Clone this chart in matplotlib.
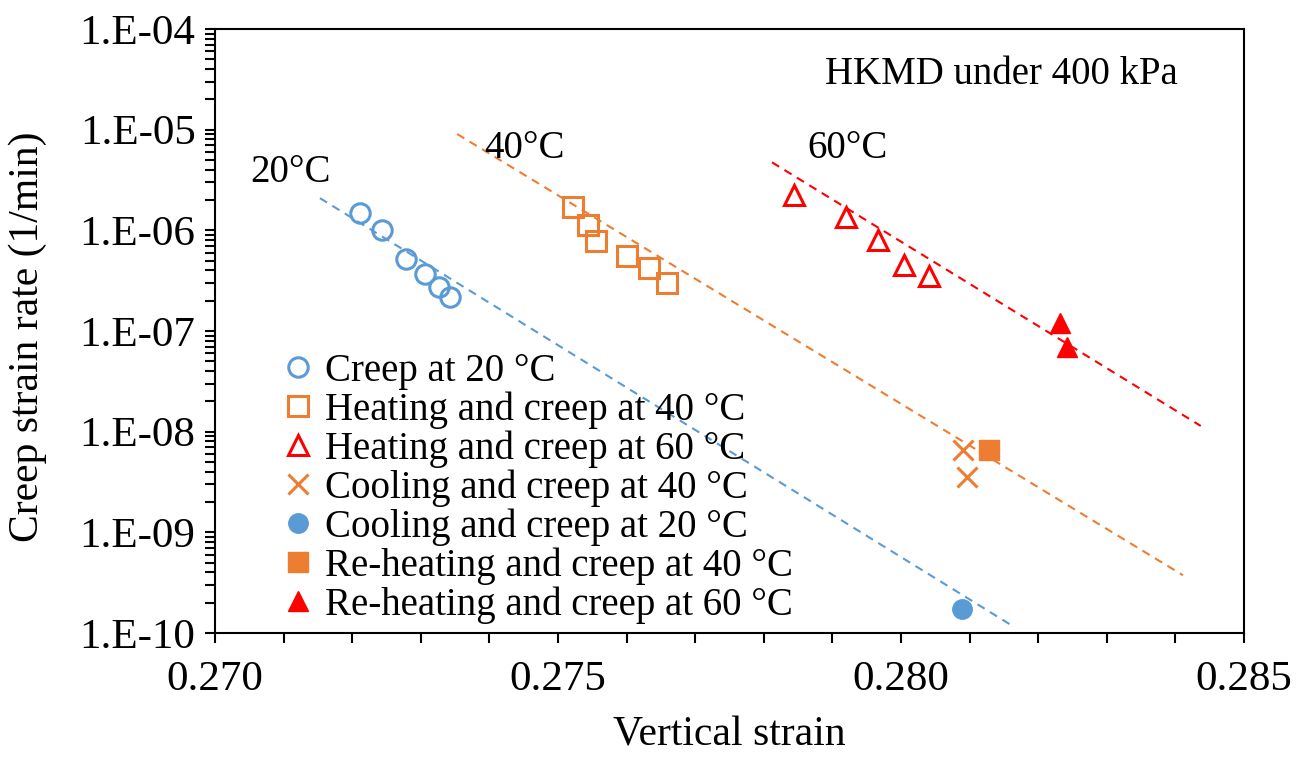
import numpy as np
import matplotlib
matplotlib.use("Agg")
import matplotlib.pyplot as plt
from matplotlib.ticker import FixedLocator, FuncFormatter, LogLocator, NullFormatter

plt.rcParams['font.family'] = ['Liberation Serif', 'DejaVu Serif']

# measured points: vertical strain vs creep strain rate (1/min)
creep20_x = [0.27211, 0.27243, 0.27278, 0.27306, 0.27326, 0.27342]
creep20_y = [1.50e-6, 1.01e-6, 5.16e-7, 3.66e-7, 2.75e-7, 2.19e-7]

heat40_x = [0.27522, 0.27544, 0.27555, 0.27601, 0.27633, 0.27659]
heat40_y = [1.69e-6, 1.13e-6, 7.89e-7, 5.56e-7, 4.20e-7, 3.02e-7]

heat60_x = [0.27844, 0.27920, 0.27967, 0.28005, 0.28041]
heat60_y = [2.24e-6, 1.35e-6, 8.02e-7, 4.53e-7, 3.52e-7]

cool40_x = [0.28091, 0.28096]
cool40_y = [6.58e-9, 3.52e-9]

cool20_x = [0.28089]
cool20_y = [1.72e-10]

reheat40_x = [0.28128]
reheat40_y = [6.58e-9]

reheat60_x = [0.28232, 0.28242]
reheat60_y = [1.19e-7, 6.98e-8]

# trend lines (start, end)
trend20_x = [0.27153, 0.28164]
trend20_y = [2.09e-6, 1.16e-10]
trend40_x = [0.27353, 0.28411]
trend40_y = [9.06e-6, 3.75e-10]
trend60_x = [0.27812, 0.28437]
trend60_y = [4.74e-6, 1.14e-8]

blue = '#5B9BD5'
orange = '#ED7D31'
red = '#FF0000'

fig = plt.figure(figsize=(13.03, 7.58), dpi=100)
ax = fig.add_axes([0.165, 0.1649, 0.7897, 0.7968])

dash = dict(lw=1.5, dashes=(4, 3))
ax.plot(trend20_x, trend20_y, color=blue, **dash)
ax.plot(trend40_x, trend40_y, color=orange, **dash)
ax.plot(trend60_x, trend60_y, color=red, **dash)

ms = 14
mew = 2.2
ax.plot(creep20_x, creep20_y, 'o', ls='none', ms=ms, mfc='none', mec=blue, mew=mew,
        label='Creep at 20 °C')
ax.plot(heat40_x, heat40_y, 's', ls='none', ms=ms, mfc='none', mec=orange, mew=mew,
        label='Heating and creep at 40 °C')
ax.plot(heat60_x, heat60_y, '^', ls='none', ms=ms, mfc='none', mec=red, mew=mew,
        label='Heating and creep at 60 °C')
ax.plot(cool40_x, cool40_y, 'x', ls='none', ms=ms, mec=orange, mew=mew,
        label='Cooling and creep at 40 °C')
ax.plot(cool20_x, cool20_y, 'o', ls='none', ms=ms, mfc=blue, mec=blue, mew=1,
        label='Cooling and creep at 20 °C')
ax.plot(reheat40_x, reheat40_y, 's', ls='none', ms=ms, mfc=orange, mec=orange, mew=1,
        label='Re-heating and creep at 40 °C')
ax.plot(reheat60_x, reheat60_y, '^', ls='none', ms=ms, mfc=red, mec=red, mew=1,
        label='Re-heating and creep at 60 °C')

ax.set_yscale('log')
ax.set_xlim(0.270, 0.285)
ax.set_ylim(1e-10, 1e-4)

ax.xaxis.set_major_locator(FixedLocator([0.270, 0.275, 0.280, 0.285]))
ax.xaxis.set_minor_locator(FixedLocator(np.arange(0.270, 0.2851, 0.001)))
ax.xaxis.set_major_formatter(FuncFormatter(lambda v, p: f"{v:.3f}"))
ax.yaxis.set_major_locator(LogLocator(base=10, numticks=10))
ax.yaxis.set_minor_locator(LogLocator(base=10, subs=np.arange(2, 10), numticks=20))
ax.yaxis.set_minor_formatter(NullFormatter())
ax.yaxis.set_major_formatter(FuncFormatter(lambda v, p: f"1.E{int(round(np.log10(v))):03d}"))

ax.tick_params(axis='both', which='both', direction='out', length=7, width=1.5,
               labelsize=31)
ax.tick_params(axis='y', which='both', right=False, pad=7)
ax.tick_params(axis='x', which='both', top=False, pad=13)
for s in ax.spines.values():
    s.set_linewidth(1.5)

ax.set_xlabel('Vertical strain', fontsize=30)
ax.set_ylabel('Creep strain rate (1/min)', fontsize=30)
ax.xaxis.label.set_va('center')
ax.yaxis.label.set_va('center')
ax.xaxis.set_label_coords(0.5, -0.169)
ax.yaxis.set_label_coords(-0.182, 0.49)

ax.text(0.073, 0.763, '20°C', transform=ax.transAxes, fontsize=28, ha='center', va='center')
ax.text(0.301, 0.803, '40°C', transform=ax.transAxes, fontsize=28, ha='center', va='center')
ax.text(0.615, 0.803, '60°C', transform=ax.transAxes, fontsize=28, ha='center', va='center')
ax.text(0.764, 0.924, 'HKMD under 400 kPa', transform=ax.transAxes, fontsize=28,
        ha='center', va='center')

ax.legend(loc='upper left', bbox_to_anchor=(0.054, 0.49), frameon=False, fontsize=28,
          handlelength=0.6, handletextpad=0.4, labelspacing=0.04, borderaxespad=0,
          markerscale=1.0)

fig.savefig('out.png', dpi=100)
